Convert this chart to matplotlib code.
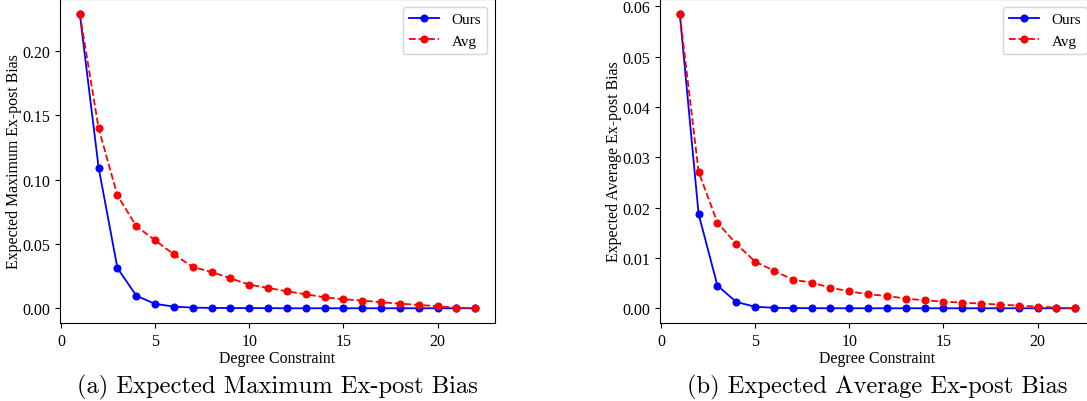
import numpy as np
import matplotlib
matplotlib.use("Agg")
import matplotlib.pyplot as plt

# degree constraint values
degree = list(range(1, 23))

# expected maximum ex-post bias
max_ours = [0.229, 0.1094, 0.0313, 0.0098, 0.0034, 0.0013, 0.0005, 0.0003, 0.0002, 0.0001,
            0.0001, 0.0, 0.0, 0.0, 0.0, 0.0, 0.0, 0.0, 0.0, 0.0, 0.0, 0.0]
max_avg = [0.229, 0.140, 0.0877, 0.0639, 0.0528, 0.0419, 0.0321, 0.0282, 0.0233, 0.0184,
           0.0158, 0.0132, 0.0109, 0.0085, 0.0070, 0.0060, 0.0047, 0.0036, 0.0026, 0.0016,
           0.0005, 0.0]

# expected average ex-post bias
avg_ours = [0.0585, 0.0187, 0.0045, 0.00126, 0.0003, 0.0001, 0.00003, 0.00002, 0.00001, 0.0,
            0.0, 0.0, 0.0, 0.0, 0.0, 0.0, 0.0, 0.0, 0.0, 0.0, 0.0, 0.0]
avg_avg = [0.0585, 0.0271, 0.0170, 0.0128, 0.00926, 0.00747, 0.00569, 0.00509, 0.0041, 0.00337,
           0.00278, 0.00245, 0.00192, 0.00159, 0.00132, 0.00112, 0.00093, 0.00073, 0.00053,
           0.00033, 0.00013, 0.0]

ylabels = ["Expected Maximum Ex-post Bias", "Expected Average Ex-post Bias"]
captions = ["(a) Expected Maximum Ex-post Bias", "(b) Expected Average Ex-post Bias"]

plt.rcParams['font.family'] = ['Liberation Serif', 'DejaVu Serif']
plt.rcParams['font.size'] = 11.5

W, H = 1087, 402
fig = plt.figure(figsize=(W / 100, H / 100), dpi=100)

# axes placed in pixel units (second one runs off the right edge, as in the reference)
boxes = [(60, 435), (660, 435)]
top, bottom = 0, 324
panels = [(max_ours, max_avg), (avg_ours, avg_avg)]

for i, ((x0, w), (ours, avg)) in enumerate(zip(boxes, panels)):
    ax = fig.add_axes([x0 / W, (H - bottom) / H, w / W, (bottom - top) / H])
    ax.plot(degree, ours, 'o-', color='blue', label='Ours', markersize=4.8, linewidth=1.3)
    ax.plot(degree, avg, 'o--', color='red', label='Avg', markersize=4.8, linewidth=1.3)
    ax.set_xlabel('Degree Constraint', fontsize=11.4, labelpad=1)
    ax.set_ylabel(ylabels[i], fontsize=11.4, labelpad=0)
    ax.legend(loc='upper right', fontsize=11)
    cx = (x0 + w / 2) / W
    fig.text(cx, (H - 387) / H, captions[i], ha='center', va='center',
             family='cmr10', fontsize=17.7)

fig.savefig('out.png', dpi=100)
